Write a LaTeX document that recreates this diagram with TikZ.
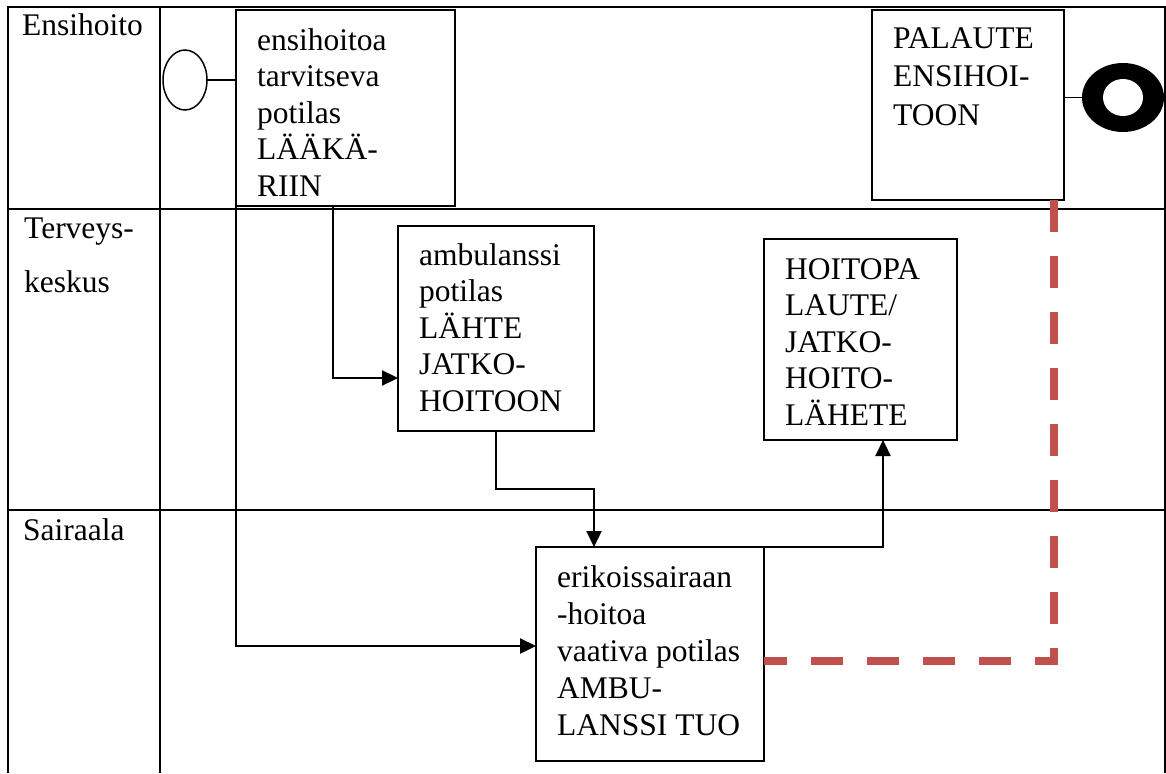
\documentclass[tikz,border=0pt]{standalone}
\usepackage{fontspec}
\setmainfont{Liberation Serif}
\usetikzlibrary{arrows.meta,calc,shapes.geometric}
\definecolor{dashred}{RGB}{192,80,77}
\begin{document}
\begin{tikzpicture}[x=1pt,y=-1pt,
  gridline/.style={line width=2.4pt},
  box/.style={draw,line width=1.5pt,inner sep=0pt,outer sep=0pt,anchor=north west},
  txt/.style={inner sep=0pt,anchor=north west,align=left,font=\fontsize{31.5}{36.5}\selectfont},
  lbl/.style={inner sep=0pt,anchor=base west,font=\fontsize{31.5}{36.5}\selectfont},
  conn/.style={line width=2.3pt,-{Triangle[length=16pt,width=15pt]}},
  thin/.style={line width=1.5pt},
  ]
\useasboundingbox (0,0) rectangle (1166,773);
% swimlane table
\draw[gridline] (8,773) -- (8,7) -- (1165,7) -- (1165,773);
\draw[gridline] (160,7) -- (160,773);
\draw[gridline] (8,209) -- (1165,209);
\draw[gridline] (8,510) -- (1165,510);
% lane labels
\node[lbl] (lane1) at (22,36) {Ensihoito};
\node[txt,font=\fontsize{31.5}{54}\selectfont] (lane2) at (24,200.2) {\strut Terveys-\\keskus};
\node[lbl] (lane3) at (23,540) {Sairaala};
% boxes
\node[box,minimum width=219pt,minimum height=196pt] (b1) at (236,10) {};
\node[box,minimum width=196pt,minimum height=205pt] (amb) at (398,226) {};
\node[box,minimum width=193pt,minimum height=201pt] (hoito) at (764,239) {};
\node[box,minimum width=192pt,minimum height=190pt] (pal) at (872,10) {};
\node[box,minimum width=228pt,minimum height=214pt] (erik) at (536,547) {};
% box texts
\node[txt] (t1) at (257,24.45) {\strut ensihoitoa\\tarvitseva\\potilas\\LÄÄKÄ-\\RIIN};
\node[txt] (t2) at (419,239.45) {\strut ambulanssi\\potilas\\LÄHTE\\JATKO-\\HOITOON};
\node[txt] (t3) at (785,253.45) {\strut HOITOPA\\LAUTE/\\JATKO-\\HOITO-\\LÄHETE};
\node[txt,font=\fontsize{31.5}{38.5}\selectfont] (t4) at (893,21.05) {\strut PALAUTE\\ENSIHOI-\\TOON};
\node[txt,font=\fontsize{31.5}{37}\selectfont] (t5) at (557,561.1) {\strut erikoissairaan\\-hoitoa\\vaativa potilas\\AMBU-\\LANSSI TUO};
% start and end events
\node[draw,thin,ellipse,inner sep=0pt,outer sep=0pt,minimum width=44pt,minimum height=60pt] (start) at (185,80) {};
\node[ellipse,fill=black,inner sep=0pt,outer sep=0pt,minimum width=82pt,minimum height=69pt] (end) at (1123,97.5) {};
\fill[white] (end.center) ellipse [x radius=20pt, y radius=18.5pt];
\draw[thin] (start.east) -- (start.east -| b1.west);
\draw[thin] (end.west -| pal.east) -- (end.west);
% connectors
\draw[conn] ([xshift=97pt]b1.south west) |- ([yshift=-49.5pt]amb.west);
\draw[conn] (amb.south) -- ++(0,58) -| ([xshift=-56pt]erik.north);
\draw[conn] (b1.south west) |- ([yshift=8pt]erik.west);
\draw[conn] (erik.north east) -| ([xshift=22.5pt]hoito.south);
\draw[line width=8pt,dashred,dash pattern=on 32pt off 24pt] ([xshift=-10pt]pal.south east) |- ([yshift=-7pt]erik.east);
\end{tikzpicture}
\end{document}
